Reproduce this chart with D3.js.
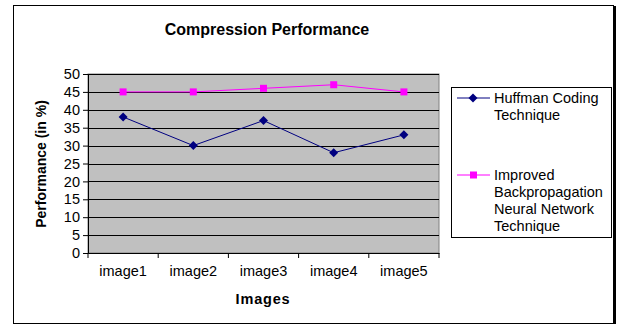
<!DOCTYPE html>
<html><head><meta charset="utf-8">
<script src="https://cdn.jsdelivr.net/npm/d3@7"></script>
<style>body{margin:0;background:#fff;} svg{display:block;font-family:"Liberation Sans",Arial,sans-serif;}</style>
</head><body>
<svg id="c" width="624" height="325"></svg>
<script>
const categories = ["image1","image2","image3","image4","image5"];
const huffman = [38, 30, 37, 28, 33];
const improved = [45, 45, 46, 47, 45];
const yTicks = [0,5,10,15,20,25,30,35,40,45,50];
const seriesNames = [["Huffman Coding","Technique"],["Improved","Backpropagation","Neural Network","Technique"]];

const svg = d3.select("#c");
svg.append("rect").attr("x",13.5).attr("y",5.5).attr("width",600).attr("height",318).attr("fill","#fff").attr("stroke","#000").attr("stroke-width",1);
svg.append("line").attr("x1",615).attr("x2",615).attr("y1",6).attr("y2",324).attr("stroke","#000").attr("stroke-width",2);

const L=88, R=439, T=74, B=253;
const x = d3.scaleBand().domain(categories).range([L,R]);
const y = d3.scaleLinear().domain([0,50]).range([B,T]);

svg.append("rect").attr("x",L).attr("y",T).attr("width",R-L).attr("height",B-T).attr("fill","#c0c0c0").attr("stroke","#808080");
svg.append("g").selectAll("line").data(yTicks.slice(1)).join("line")
  .attr("x1",L).attr("x2",R).attr("y1",d=>Math.round(y(d))+0.5).attr("y2",d=>Math.round(y(d))+0.5)
  .attr("stroke","#000").attr("stroke-width",1);

const ya = svg.append("g").attr("transform",`translate(${L},0)`)
  .call(d3.axisLeft(y).tickValues(yTicks).tickSize(5).tickPadding(3));
ya.select(".domain").attr("stroke","#000");
ya.selectAll("text").attr("font-size",14.5).attr("font-family","Liberation Sans, Arial").attr("fill","#000");

const xa = svg.append("g").attr("transform",`translate(0,${B})`)
  .call(d3.axisBottom(x).tickSize(0).tickPadding(13));
xa.select(".domain").attr("stroke","#000");
xa.selectAll("text").attr("font-size",14.5).attr("font-family","Liberation Sans, Arial").attr("fill","#000");
svg.append("g").selectAll("line").data(categories.concat(["end"])).join("line")
  .attr("x1",(d,i)=>L+i*x.step()).attr("x2",(d,i)=>L+i*x.step())
  .attr("y1",B).attr("y2",B+5).attr("stroke","#000");

const cx = d=>x(d)+x.bandwidth()/2;
const line = d3.line().x((d,i)=>cx(categories[i])).y(d=>y(d));
svg.append("path").datum(improved).attr("d",line).attr("fill","none").attr("stroke","#ff00ff").attr("stroke-width",1);
svg.append("path").datum(huffman).attr("d",line).attr("fill","none").attr("stroke","#000080").attr("stroke-width",1);
svg.append("g").selectAll("rect").data(improved).join("rect")
  .attr("x",(d,i)=>cx(categories[i])-3.5).attr("y",d=>y(d)-3.5).attr("width",7).attr("height",7).attr("fill","#ff00ff");
const diamond = "M0,-4.5L4.5,0L0,4.5L-4.5,0Z";
svg.append("g").selectAll("path").data(huffman).join("path")
  .attr("d",diamond).attr("transform",(d,i)=>`translate(${cx(categories[i])},${y(d)})`).attr("fill","#000080");

svg.append("text").attr("x",267).attr("y",35).attr("text-anchor","middle").attr("font-weight","bold").attr("font-size",16).text("Compression Performance");
svg.append("text").attr("x",263).attr("y",304).attr("text-anchor","middle").attr("font-weight","bold").attr("font-size",14.5).attr("letter-spacing",0.8).text("Images");
svg.append("text").attr("transform","translate(46,164) rotate(-90)").attr("text-anchor","middle").attr("font-weight","bold").attr("font-size",14).text("Performance (in %)");

svg.append("rect").attr("x",451.5).attr("y",87.5).attr("width",160).attr("height",150).attr("fill","#fff").attr("stroke","#000");
const lg = [{c:"#000080",t:"d",y:98,lines:seriesNames[0]},{c:"#ff00ff",t:"s",y:175,lines:seriesNames[1]}];
lg.forEach(s=>{
  svg.append("line").attr("x1",457).attr("x2",490).attr("y1",s.y).attr("y2",s.y).attr("stroke",s.c);
  if(s.t==="d") svg.append("path").attr("d",diamond).attr("transform",`translate(473,${s.y})`).attr("fill",s.c);
  else svg.append("rect").attr("x",470).attr("y",s.y-3.5).attr("width",7).attr("height",7).attr("fill",s.c);
  s.lines.forEach((t,i)=>svg.append("text").attr("x",494).attr("y",s.y+5+i*17).attr("font-size",14.5).text(t));
});
</script>
</body></html>
